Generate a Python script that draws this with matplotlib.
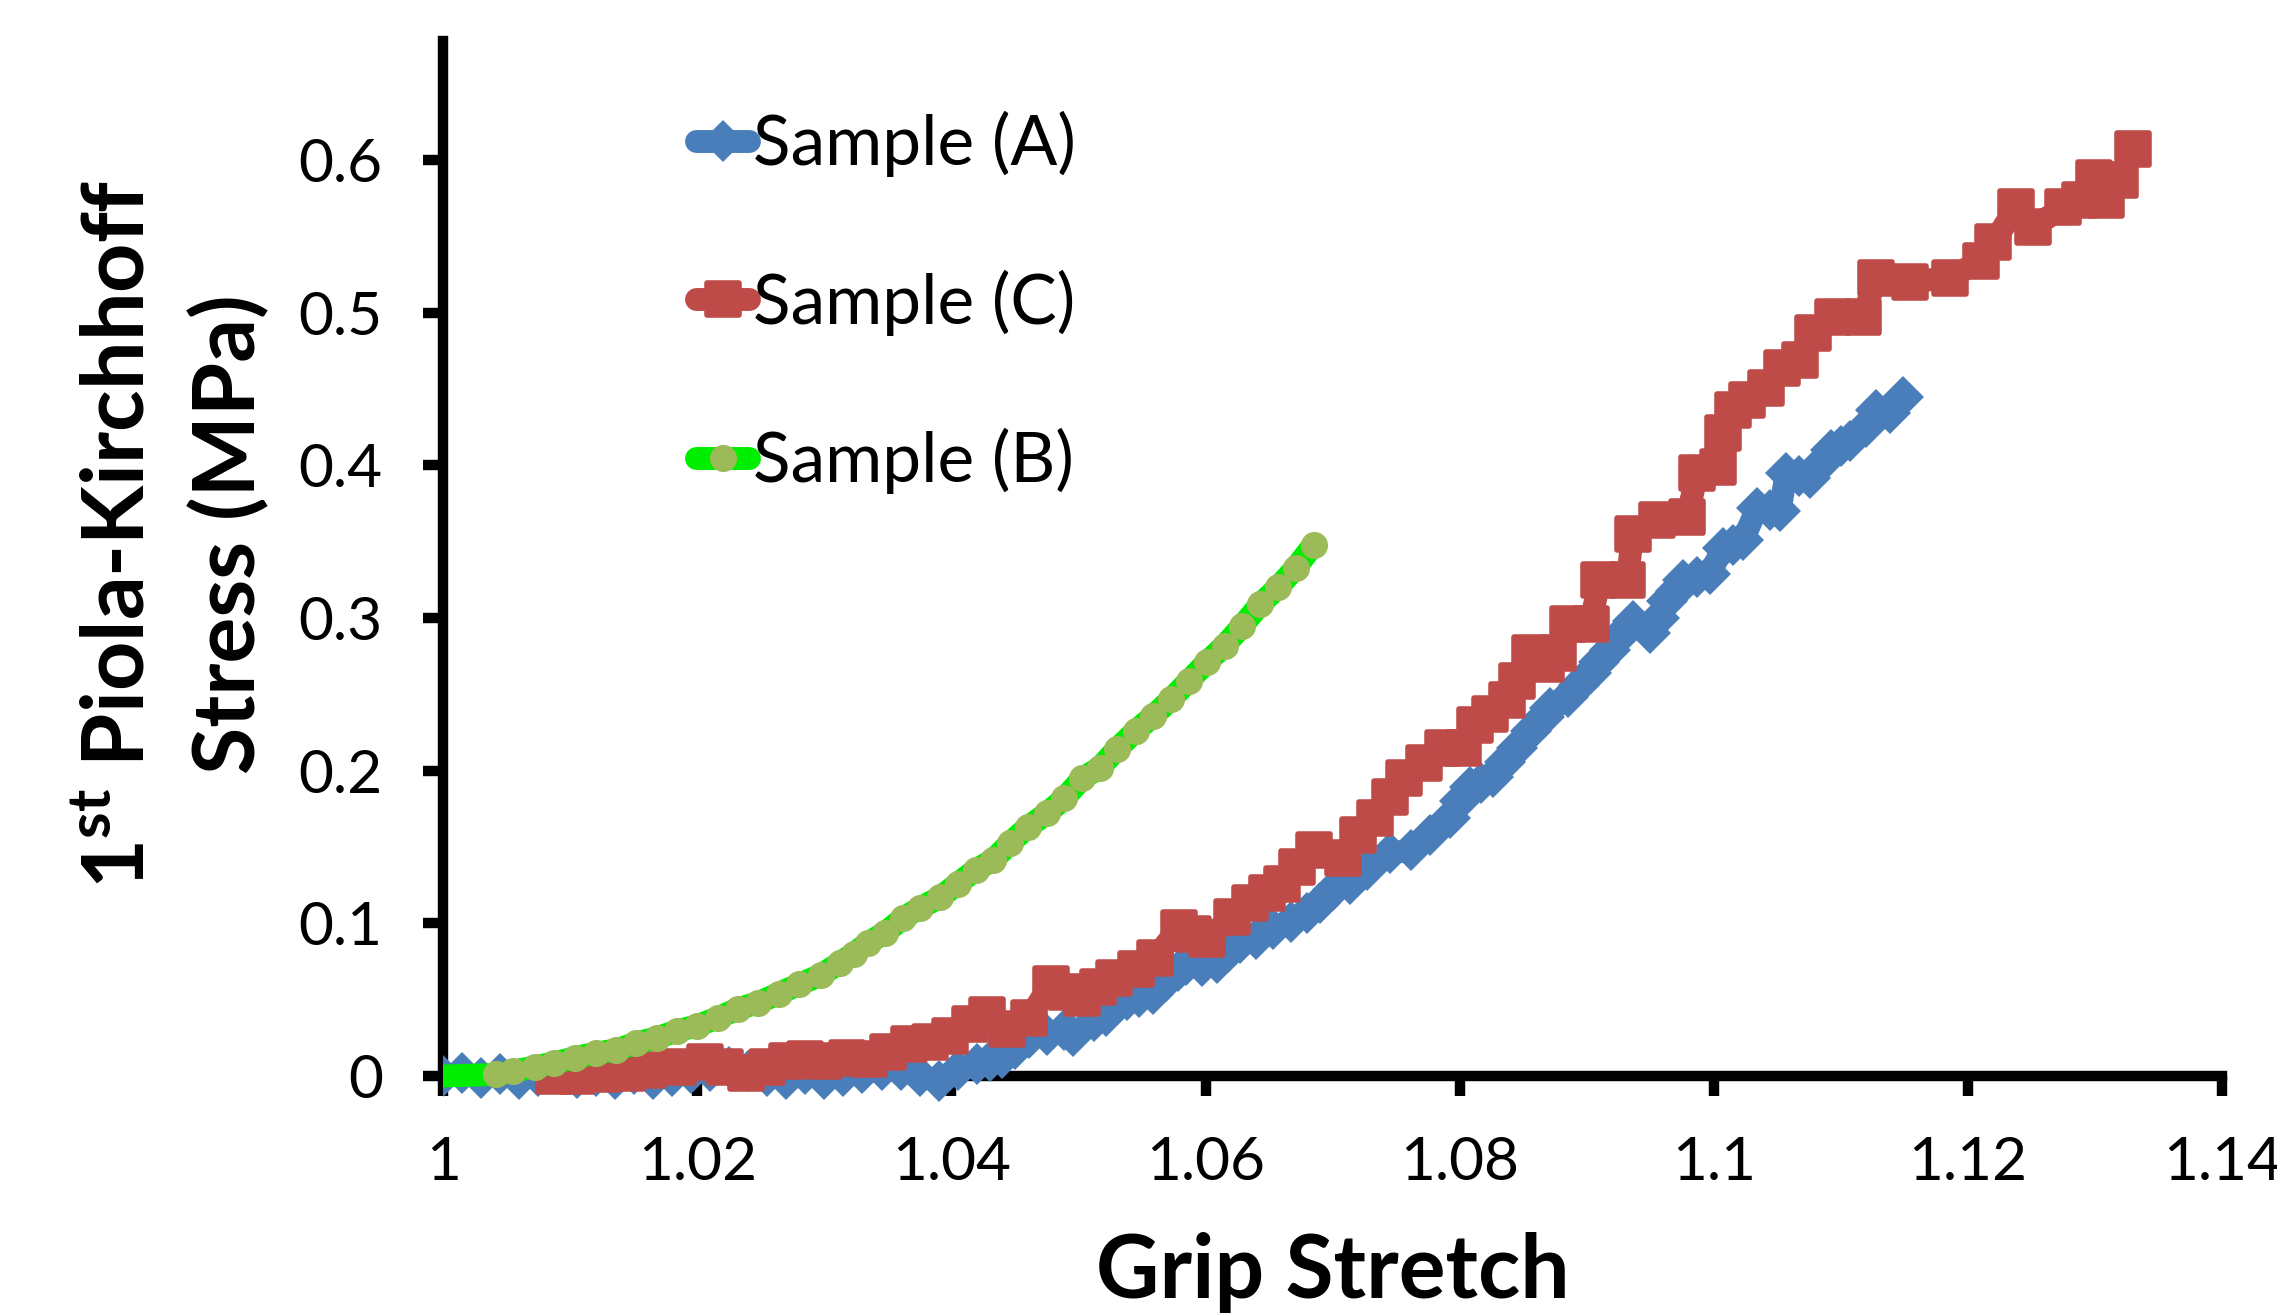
import matplotlib
matplotlib.use("Agg")
import matplotlib.pyplot as plt
from matplotlib.markers import MarkerStyle
from matplotlib.transforms import Bbox, TransformedBbox

plt.rcParams['font.family'] = ['Lato', 'DejaVu Sans']
plt.rcParams['mathtext.fontset'] = 'custom'
plt.rcParams['mathtext.rm'] = 'Lato'
plt.rcParams['mathtext.bf'] = 'Lato:bold'

# --- veri ---
a_x = [1.0000, 1.0015, 1.0030, 1.0045, 1.0060, 1.0075, 1.0090, 1.0105, 1.0120,
       1.0135, 1.0150, 1.0165, 1.0180, 1.0195, 1.0210, 1.0225, 1.0240, 1.0255,
       1.0270, 1.0285, 1.0300, 1.0315, 1.0330, 1.0345, 1.0360, 1.0375, 1.0390,
       1.0405, 1.0420, 1.0430, 1.0440, 1.0450, 1.0461, 1.0475, 1.0489, 1.0496,
       1.0512, 1.0522, 1.0538, 1.0548, 1.0559, 1.0569, 1.0578, 1.0585, 1.0597,
       1.0609, 1.0618, 1.0627, 1.0640, 1.0653, 1.0667, 1.0680, 1.0690, 1.0700,
       1.0714, 1.0727, 1.0745, 1.0762, 1.0777, 1.0792, 1.0800, 1.0808, 1.0817,
       1.0826, 1.0836, 1.0845, 1.0856, 1.0866, 1.0871, 1.0885, 1.0894, 1.0903,
       1.0910, 1.0918, 1.0927, 1.0936, 1.0950, 1.0957, 1.0963, 1.0970, 1.0976,
       1.0987, 1.0997, 1.1007, 1.1015, 1.1023, 1.1034, 1.1044, 1.1052, 1.1057,
       1.1067, 1.1076, 1.1084, 1.1092, 1.1100, 1.1107, 1.1120, 1.1128, 1.1139,
       1.1149]
a_y = [0.000, 0.002, -0.001, 0.001, -0.002, 0.000, 0.002, -0.001, 0.000,
       -0.002, 0.001, -0.002, 0.000, 0.002, 0.003, 0.006, 0.003, 0.000,
       -0.002, 0.001, -0.002, 0.000, 0.002, 0.004, 0.004, 0.000, -0.003,
       0.004, 0.008, 0.010, 0.012, 0.018, 0.025, 0.027, 0.030, 0.026,
       0.036, 0.039, 0.050, 0.052, 0.054, 0.062, 0.069, 0.073, 0.072,
       0.074, 0.081, 0.087, 0.090, 0.096, 0.101, 0.107, 0.113, 0.122,
       0.126, 0.135, 0.146, 0.148, 0.158, 0.169, 0.180, 0.189, 0.192,
       0.196, 0.206, 0.215, 0.226, 0.235, 0.241, 0.248, 0.256, 0.264,
       0.271, 0.279, 0.289, 0.298, 0.290, 0.300, 0.311, 0.318, 0.325,
       0.327, 0.329, 0.346, 0.348, 0.351, 0.372, 0.371, 0.370, 0.395,
       0.393, 0.392, 0.401, 0.410, 0.413, 0.416, 0.425, 0.436, 0.434,
       0.445]

c_x = [1.0087, 1.0105, 1.0126, 1.0145, 1.0161, 1.0185, 1.0206, 1.0222, 1.0238,
       1.0255, 1.0271, 1.0285, 1.0300, 1.0318, 1.0335, 1.0350, 1.0367, 1.0383,
       1.0399, 1.0415, 1.0428, 1.0444, 1.0461, 1.0478, 1.0490, 1.0503, 1.0515,
       1.0528, 1.0545, 1.0560, 1.0579, 1.0590, 1.0601, 1.0621, 1.0635, 1.0648,
       1.0660, 1.0672, 1.0685, 1.0708, 1.0720, 1.0733, 1.0745, 1.0756, 1.0772,
       1.0787, 1.0803, 1.0812, 1.0824, 1.0837, 1.0845, 1.0855, 1.0868, 1.0877,
       1.0885, 1.0903, 1.0910, 1.0932, 1.0936, 1.0955, 1.0979, 1.0987, 1.1003,
       1.1007, 1.1015, 1.1026, 1.1041, 1.1054, 1.1068, 1.1078, 1.1094, 1.1117,
       1.1128, 1.1154, 1.1186, 1.1210, 1.1220, 1.1238, 1.1251, 1.1275, 1.1288,
       1.1299, 1.1309, 1.1320, 1.1330]
c_y = [0.000, 0.000, 0.001, 0.002, 0.004, 0.006, 0.009, 0.006, 0.002,
       0.006, 0.010, 0.011, 0.010, 0.012, 0.011, 0.016, 0.021, 0.022,
       0.026, 0.034, 0.040, 0.031, 0.038, 0.060, 0.055, 0.051, 0.058,
       0.064, 0.070, 0.077, 0.097, 0.093, 0.090, 0.104, 0.113, 0.120,
       0.126, 0.137, 0.148, 0.143, 0.158, 0.169, 0.183, 0.195, 0.205,
       0.215, 0.215, 0.230, 0.237, 0.246, 0.259, 0.277, 0.270, 0.277,
       0.296, 0.296, 0.325, 0.325, 0.355, 0.364, 0.366, 0.395, 0.399,
       0.421, 0.436, 0.443, 0.451, 0.464, 0.469, 0.487, 0.497, 0.497,
       0.523, 0.520, 0.523, 0.534, 0.546, 0.569, 0.556, 0.569, 0.574,
       0.588, 0.574, 0.587, 0.607]

b_x = [1.0000, 1.0042, 1.0055, 1.0072, 1.0087, 1.0104, 1.0120, 1.0136, 1.0152,
       1.0168, 1.0184, 1.0200, 1.0216, 1.0232, 1.0248, 1.0264, 1.0280, 1.0297,
       1.0312, 1.0323, 1.0334, 1.0348, 1.0362, 1.0375, 1.0391, 1.0405, 1.0419,
       1.0433, 1.0446, 1.0460, 1.0475, 1.0489, 1.0503, 1.0517, 1.0530, 1.0545,
       1.0559, 1.0573, 1.0587, 1.0601, 1.0615, 1.0629, 1.0643, 1.0657, 1.0671,
       1.0685]
b_y = [0.000, 0.001, 0.003, 0.006, 0.0085, 0.012, 0.015, 0.017, 0.0216,
       0.025, 0.0295, 0.033, 0.038, 0.044, 0.048, 0.054, 0.060, 0.066,
       0.074, 0.080, 0.087, 0.094, 0.1035, 0.110, 0.117, 0.126, 0.135,
       0.1415, 0.1526, 0.163, 0.172, 0.182, 0.195, 0.202, 0.214, 0.226,
       0.236, 0.247, 0.259, 0.271, 0.282, 0.295, 0.309, 0.320, 0.333,
       0.348]

x_ticks = [1.0, 1.02, 1.04, 1.06, 1.08, 1.10, 1.12, 1.14]
x_tick_labels = ['1', '1.02', '1.04', '1.06', '1.08', '1.1', '1.12', '1.14']
y_ticks = [0.0, 0.1, 0.2, 0.3, 0.4, 0.5, 0.6]
y_tick_labels = ['0', '0.1', '0.2', '0.3', '0.4', '0.5', '0.6']


def draw_chart():
    fig = plt.figure(figsize=(22.77, 13.13), dpi=100)
    ax = fig.add_axes([0.1946, 0.1805, 0.7813, 0.7883])

    # sol kenarda kes, alt kenarda kesme
    clip = TransformedBbox(Bbox([[1.0, -0.2], [1.3, 1.0]]), ax.transData)

    sq = MarkerStyle('s', joinstyle='round')
    lines = []
    lines += ax.plot(a_x, a_y, color='#4A7EBB', lw=16.5, marker='D', ms=21,
                     mew=0, solid_capstyle='round', solid_joinstyle='round',
                     label='Sample (A)', zorder=3)
    lines += ax.plot(c_x, c_y, color='#BE4B48', lw=16.5, marker=sq, ms=22.5,
                     mew=4, mec='#BE4B48', solid_capstyle='round',
                     solid_joinstyle='round', label='Sample (C)', zorder=3)
    lines += ax.plot(b_x, b_y, color='#00EE00', lw=16.5, marker='o', ms=19.5,
                     mew=0, mfc='#9BBB59', markevery=slice(1, None),
                     solid_capstyle='round', solid_joinstyle='round',
                     label='Sample (B)', zorder=3)
    for ln in lines:
        ln.set_clip_box(clip)

    ax.set_xlim(1.0, 1.14)
    ax.set_ylim(0.0, 0.678)
    ax.spines['top'].set_visible(False)
    ax.spines['right'].set_visible(False)
    for s in ('left', 'bottom'):
        ax.spines[s].set_linewidth(7.5)
    ax.set_xticks(x_ticks)
    ax.set_xticklabels(x_tick_labels)
    ax.set_yticks(y_ticks)
    ax.set_yticklabels(y_tick_labels)
    ax.tick_params(axis='both', direction='out', length=14.5, width=7.5,
                   labelsize=43.5)
    ax.tick_params(axis='x', pad=29)
    ax.tick_params(axis='y', pad=29)

    ax.set_xlabel('Grip Stretch', fontsize=63, fontweight='bold')
    ax.xaxis.set_label_coords(0.5, -0.151)
    ax.set_ylabel('1$^{\\mathbf{st}}$ Piola-Kirchhoff\nStress (MPa)',
                  fontsize=62, fontweight='bold', linespacing=1.45)
    ax.yaxis.set_label_coords(-0.097, 0.523)

    ax.legend(loc='upper left', bbox_to_anchor=(0.3057, 0.9157),
              bbox_transform=fig.transFigure, frameon=False, fontsize=50,
              borderpad=0, borderaxespad=0, handlelength=0.765,
              handletextpad=0.049, labelspacing=1.33, numpoints=1)

    fig.savefig('out.png', dpi=100)
    plt.close(fig)


if __name__ == "__main__":
    draw_chart()
